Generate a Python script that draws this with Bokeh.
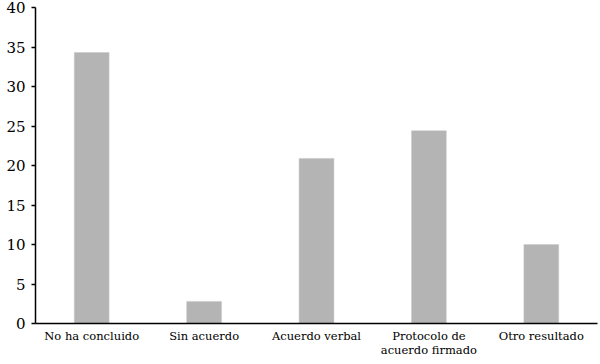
from bokeh.plotting import figure
from bokeh.models import FactorRange, Range1d, FixedTicker, ColumnDataSource
from bokeh.embed import file_html
from bokeh.resources import INLINE

categories = ["No ha concluido", "Sin acuerdo", "Acuerdo verbal",
              "Protocolo de\nacuerdo firmado", "Otro resultado"]
values = [34.3, 2.8, 20.9, 24.4, 10.0]
y_ticks = [0, 5, 10, 15, 20, 25, 30, 35, 40]

src = ColumnDataSource(data=dict(cat=categories, val=values))

p = figure(width=600, height=362, output_backend="svg", toolbar_location=None,
           x_range=FactorRange(*categories, range_padding=0),
           y_range=Range1d(0, 40))
p.min_border_left = 35
p.min_border_right = 3
p.min_border_top = 7
p.min_border_bottom = 39
p.outline_line_color = None
p.xgrid.grid_line_color = None
p.ygrid.grid_line_color = None
p.background_fill_color = "white"
p.border_fill_color = "white"

p.vbar(x="cat", top="val", width=0.31, source=src,
       fill_color="#b4b4b4", line_color="#c8c8c8", line_width=0.5)

font = "DejaVu Serif"
p.yaxis.ticker = FixedTicker(ticks=y_ticks)
p.yaxis.major_label_text_font = font
p.yaxis.major_label_text_font_size = "15px"
p.yaxis.major_label_text_color = "black"
p.yaxis.major_tick_out = 4
p.yaxis.major_tick_in = 0
p.yaxis.minor_tick_out = 0
p.yaxis.minor_tick_in = 0
p.yaxis.axis_line_color = "black"
p.yaxis.axis_line_width = 1.5
p.yaxis.major_tick_line_width = 1.5
p.yaxis.major_label_standoff = 6

p.xaxis.major_label_text_font = font
p.xaxis.major_label_text_font_size = "11.5px"
p.xaxis.major_label_text_color = "black"
p.xaxis.major_tick_out = 0
p.xaxis.major_tick_in = 0
p.xaxis.minor_tick_out = 0
p.xaxis.axis_line_color = "black"
p.xaxis.axis_line_width = 1.5
p.xaxis.major_label_standoff = 5
p.xaxis.major_label_text_line_height = 1.0

open("out.html", "w").write(file_html(p, INLINE))
